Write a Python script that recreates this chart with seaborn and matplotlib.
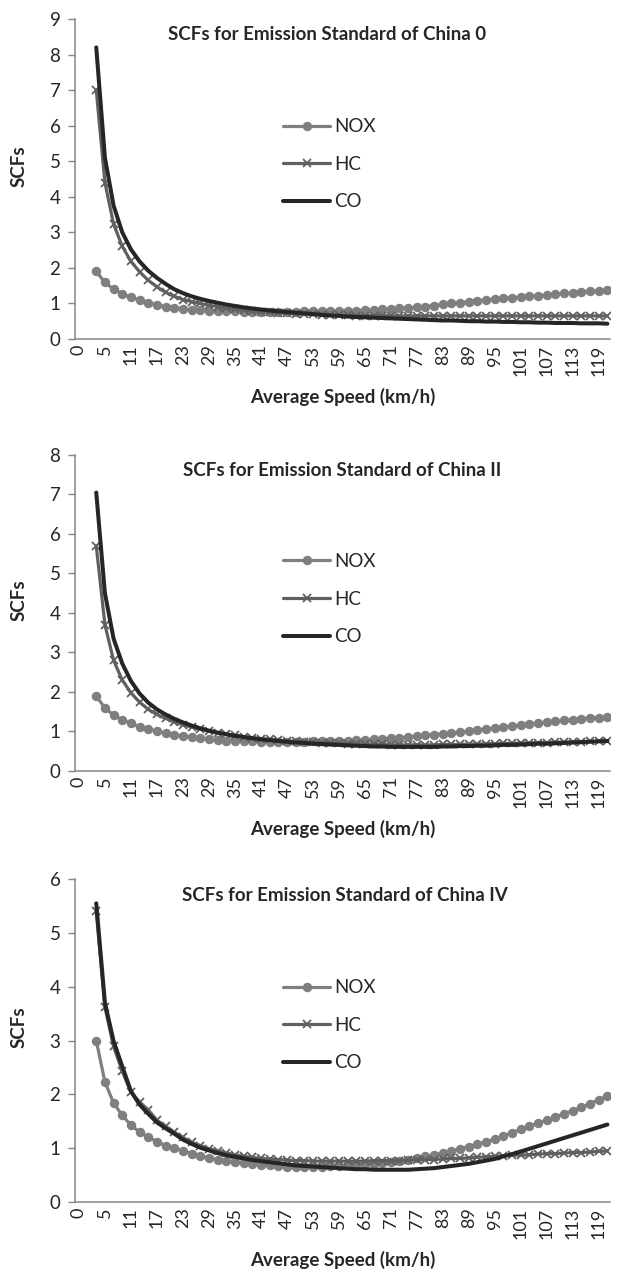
import matplotlib
matplotlib.use("Agg")
import matplotlib.pyplot as plt
import seaborn as sns

sns.set_style("white")
plt.rcParams["font.family"] = ["Lato", "DejaVu Sans"]

# ---------------- data ----------------
speeds = list(range(3, 122, 2))  # average speed categories (km/h)
tick_labels = ["0", "5", "11", "17", "23", "29", "35", "41", "47", "53", "59",
               "65", "71", "77", "83", "89", "95", "101", "107", "113", "119"]
series_names = ["NOX", "HC", "CO"]
titles = ["SCFs for Emission Standard of China 0",
          "SCFs for Emission Standard of China II",
          "SCFs for Emission Standard of China IV"]

nox_0 = [1.90, 1.59, 1.40, 1.27, 1.17, 1.10, 1.02, 0.96, 0.91, 0.88, 0.85, 0.82,
         0.81, 0.80, 0.79, 0.78, 0.78,
         0.77, 0.77, 0.77, 0.77, 0.77,
         0.77, 0.77, 0.78, 0.78, 0.78,
         0.79, 0.79, 0.80, 0.80, 0.81,
         0.82, 0.83, 0.84, 0.86, 0.87,
         0.89, 0.91, 0.94, 0.97, 1.00,
         1.02, 1.05, 1.07, 1.10, 1.12,
         1.14, 1.16, 1.18, 1.20, 1.22,
         1.24, 1.26, 1.28, 1.30, 1.32,
         1.34, 1.35, 1.37]
hc_0 = [7.00, 4.40, 3.23, 2.61, 2.18, 1.89, 1.65, 1.47, 1.31, 1.20, 1.11, 1.05,
        1.00, 0.95, 0.91, 0.87, 0.84,
        0.81, 0.79, 0.77, 0.75, 0.74,
        0.72, 0.71, 0.70, 0.69, 0.68,
        0.68, 0.67, 0.67, 0.66, 0.66,
        0.66, 0.66, 0.65, 0.65, 0.65,
        0.65, 0.65, 0.65, 0.65, 0.65,
        0.65, 0.65, 0.65, 0.65, 0.65,
        0.65, 0.65, 0.65, 0.65, 0.65,
        0.65, 0.65, 0.65, 0.65, 0.65,
        0.65, 0.65, 0.65]
co_0 = [8.20, 5.10, 3.75, 3.00, 2.52, 2.18, 1.92, 1.72, 1.55, 1.40, 1.29, 1.20,
        1.13, 1.07, 1.02, 0.97, 0.93,
        0.89, 0.86, 0.83, 0.80, 0.78,
        0.76, 0.74, 0.72, 0.70, 0.68,
        0.66, 0.65, 0.63, 0.62, 0.61,
        0.60, 0.59, 0.58, 0.57, 0.56,
        0.55, 0.54, 0.53, 0.52, 0.52,
        0.51, 0.50, 0.50, 0.49, 0.49,
        0.48, 0.48, 0.47, 0.47, 0.46,
        0.46, 0.45, 0.45, 0.45, 0.44,
        0.44, 0.44, 0.43]

nox_2 = [1.90, 1.59, 1.42, 1.29, 1.21, 1.12, 1.06, 1.01, 0.95, 0.91, 0.89, 0.85,
         0.83, 0.80, 0.78,
         0.77, 0.76, 0.75, 0.75, 0.74,
         0.74, 0.74, 0.74, 0.74, 0.74,
         0.75, 0.75, 0.76, 0.76, 0.77,
         0.78, 0.79, 0.80, 0.81, 0.83,
         0.84, 0.86, 0.88, 0.90, 0.92,
         0.94, 0.96, 0.98, 1.01, 1.04,
         1.06, 1.09, 1.11, 1.14, 1.16,
         1.19, 1.21, 1.24, 1.26, 1.28,
         1.30, 1.32, 1.34, 1.35, 1.36]
hc_2 = [5.70, 3.70, 2.80, 2.30, 1.98, 1.74, 1.56, 1.43, 1.33, 1.24, 1.17, 1.11,
        1.06, 1.01, 0.97, 0.93, 0.90,
        0.87, 0.84, 0.82, 0.80, 0.78,
        0.76, 0.75, 0.74, 0.73, 0.72,
        0.71, 0.70, 0.69, 0.68, 0.68,
        0.67, 0.67, 0.66, 0.66, 0.66,
        0.66, 0.66, 0.66, 0.67, 0.67,
        0.67, 0.68, 0.68, 0.69, 0.69,
        0.70, 0.70, 0.71, 0.71, 0.72,
        0.72, 0.73, 0.73, 0.74, 0.74,
        0.75, 0.75, 0.76]
co_2 = [7.05, 4.50, 3.35, 2.72, 2.28, 1.96, 1.73, 1.56, 1.43, 1.32, 1.23, 1.15,
        1.08, 1.02, 0.97, 0.93, 0.89,
        0.86, 0.83, 0.80, 0.78, 0.76,
        0.74, 0.72, 0.71, 0.69, 0.68,
        0.67, 0.66, 0.65, 0.64, 0.63,
        0.62, 0.62, 0.61, 0.61, 0.61,
        0.61, 0.61, 0.61, 0.62, 0.62,
        0.63, 0.63, 0.64, 0.64, 0.65,
        0.66, 0.66, 0.67, 0.68, 0.69,
        0.69, 0.70, 0.71, 0.72, 0.73,
        0.74, 0.75, 0.76]

nox_4 = [3.00, 2.23, 1.84, 1.61, 1.43, 1.30, 1.21, 1.12, 1.05, 1.00, 0.95, 0.90,
         0.86, 0.82, 0.79, 0.76, 0.74,
         0.72, 0.70, 0.69, 0.68, 0.67,
         0.66, 0.66, 0.66, 0.66, 0.66,
         0.67, 0.67, 0.68, 0.69, 0.70,
         0.71, 0.72, 0.74, 0.77, 0.79,
         0.82, 0.85, 0.88, 0.91, 0.95,
         0.99, 1.03, 1.07, 1.12, 1.17,
         1.23, 1.29, 1.35, 1.41, 1.47,
         1.52, 1.58, 1.64, 1.70, 1.76,
         1.83, 1.90, 1.97]
hc_4 = [5.40, 3.62, 2.89, 2.43, 2.04, 1.86, 1.71, 1.52, 1.41, 1.30, 1.20, 1.11,
        1.05, 0.99, 0.95, 0.91, 0.88,
        0.85, 0.83, 0.81, 0.80, 0.79,
        0.78, 0.77, 0.77, 0.76, 0.76,
        0.76, 0.76, 0.76, 0.76, 0.76,
        0.77, 0.77, 0.77, 0.77, 0.78,
        0.78, 0.79, 0.79, 0.80, 0.81,
        0.81, 0.82, 0.83, 0.84, 0.85,
        0.86, 0.87, 0.87, 0.88, 0.89,
        0.90, 0.90, 0.91, 0.92, 0.92,
        0.93, 0.94, 0.95]
co_4 = [5.55, 3.70, 2.99, 2.52, 2.06, 1.81, 1.64, 1.48, 1.37, 1.27, 1.16, 1.08,
        1.01, 0.96, 0.91, 0.87, 0.84,
        0.81, 0.78, 0.76, 0.74, 0.72,
        0.70, 0.68, 0.67, 0.66, 0.65,
        0.64, 0.63, 0.62, 0.61, 0.61,
        0.60, 0.60, 0.60, 0.60, 0.60,
        0.61, 0.62, 0.63, 0.65, 0.67,
        0.69, 0.71, 0.74, 0.77, 0.80,
        0.85, 0.89, 0.94, 0.99, 1.04,
        1.09, 1.14, 1.19, 1.24, 1.29,
        1.34, 1.39, 1.44]

panels = [(nox_0, hc_0, co_0), (nox_2, hc_2, co_2), (nox_4, hc_4, co_4)]
y_max = [9, 8, 6]

# ---------------- style ----------------
colors = {"NOX": "#7f7f7f", "HC": "#606060", "CO": "#262626"}
axis_grey = "#868686"

fig = plt.figure(figsize=(6.18, 12.72), dpi=100)
ax_rects = [
    [0.1214, 0.7335, 0.8657, 0.2516],
    [0.1214, 0.3939, 0.8657, 0.2484],
    [0.1214, 0.0550, 0.8657, 0.2539],
]
title_x = [0.471, 0.499, 0.505]
tick_pos = [-1] + [int(t) for t in tick_labels[1:]]

for rect, (nox, hc, co), ymax, title, tx in zip(ax_rects, panels, y_max,
                                                 titles, title_x):
    ax = fig.add_axes(rect)
    sns.lineplot(x=speeds, y=nox, ax=ax, color=colors["NOX"], linewidth=2.3,
                 marker="o", markersize=6.8, markeredgewidth=0,
                 markerfacecolor=colors["NOX"], label="NOX")
    sns.lineplot(x=speeds, y=hc, ax=ax, color=colors["HC"], linewidth=2.3,
                 marker="x", markersize=6.3, markeredgewidth=1.3,
                 markeredgecolor=colors["HC"], label="HC")
    sns.lineplot(x=speeds, y=co, ax=ax, color=colors["CO"], linewidth=2.9,
                 label="CO")
    ax.set_xlim(-1.9, 121.6)
    ax.set_ylim(0, ymax)
    ax.set_yticks(range(0, ymax + 1))
    ax.set_xticks(tick_pos)
    ax.set_xticklabels(tick_labels, rotation=90, fontsize=13)
    ax.tick_params(axis="y", labelsize=13.5, length=5, width=1, color=axis_grey,
                   direction="out", pad=5.5, left=True)
    ax.tick_params(axis="x", length=0, pad=4)
    for s in ["top", "right"]:
        ax.spines[s].set_visible(False)
    for s in ["left", "bottom"]:
        ax.spines[s].set_color(axis_grey)
        ax.spines[s].set_linewidth(1.1)
    ax.set_ylabel("SCFs", fontsize=13.5, fontweight="bold")
    ax.yaxis.set_label_coords(-0.088, 0.54)
    ax.set_xlabel("Average Speed (km/h)", fontsize=13.5, fontweight="bold",
                  labelpad=9)
    ax.text(tx, 0.95, title, transform=ax.transAxes, ha="center", va="center",
            fontsize=13.5, fontweight="bold")
    ax.legend(loc="upper left", bbox_to_anchor=(0.389, 0.69), frameon=False,
              fontsize=13.5, handlelength=2.5, handletextpad=0.2,
              labelspacing=1.1, borderpad=0, borderaxespad=0)

fig.savefig("out.png", dpi=100)
